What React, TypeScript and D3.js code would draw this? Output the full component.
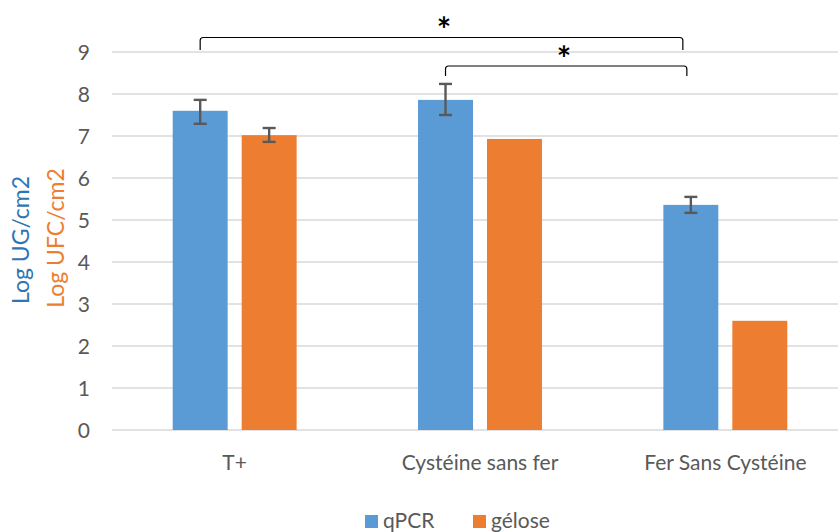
import React from "react";
import * as d3 from "d3";

const categories = ["T+", "Cystéine sans fer", "Fer Sans Cystéine"];
const seriesNames = ["qPCR", "gélose"];
const qpcrValues = [7.6, 7.86, 5.36];
const qpcrErrLow = [7.29, 7.5, 5.17];
const qpcrErrHigh = [7.86, 8.24, 5.55];
const geloseValues = [7.02, 6.93, 2.6];
const geloseErrLow = [6.86, null, null];
const geloseErrHigh = [7.19, null, null];
const yTicks = [0, 1, 2, 3, 4, 5, 6, 7, 8, 9];
const colors = ["#5B9BD5", "#ED7D31"];

const W = 838;
const H = 532;
const FONT = "Lato, 'Open Sans', sans-serif";

export default function App() {
  const y = d3.scaleLinear().domain([0, 9]).range([430, 52]);
  const x0 = d3.scaleBand().domain(categories).range([112, 848]).paddingInner(0).paddingOuter(0);
  const x1 = d3.scaleBand().domain(seriesNames).range([0, x0.bandwidth()]).paddingInner(0.203).paddingOuter(0.88);

  const series = [
    { name: seriesNames[0], values: qpcrValues, lo: qpcrErrLow, hi: qpcrErrHigh, color: colors[0] },
    { name: seriesNames[1], values: geloseValues, lo: geloseErrLow, hi: geloseErrHigh, color: colors[1] },
  ];

  const barCenter = (ci: number, si: number) =>
    (x0(categories[ci]) as number) + (x1(seriesNames[si]) as number) + x1.bandwidth() / 2;

  const brackets = [
    { from: barCenter(0, 0), to: barCenter(2, 0) - 8, yTop: 37.5, yLeft: 50, yRight: 50, starX: 444, starY: 42 },
    { from: barCenter(1, 0), to: barCenter(2, 0) - 4, yTop: 66, yLeft: 76, yRight: 76, starX: 564, starY: 71 },
  ];

  return (
    <svg width={W} height={H} style={{ position: "absolute", left: 0, top: 0, background: "#fff" }}>
      <rect width={W} height={H} fill="#fff" />
      {yTicks.map((t) => (
        <g key={t}>
          <line x1={112} x2={838} y1={y(t)} y2={y(t)} stroke="#D9D9D9" strokeWidth={1.5} />
          <text x={90} y={y(t)} dy="0.36em" textAnchor="end" fontFamily={FONT} fontSize={21} fill="#595959">
            {t}
          </text>
        </g>
      ))}
      {series.map((s) =>
        categories.map((c, ci) => {
          const bx = (x0(c) as number) + (x1(s.name) as number);
          return (
            <rect key={s.name + c} x={bx} y={y(s.values[ci])} width={x1.bandwidth()} height={y(0) - y(s.values[ci])} fill={s.color} />
          );
        })
      )}
      {series.map((s, si) =>
        categories.map((c, ci) => {
          if (s.lo[ci] == null || s.hi[ci] == null) return null;
          const cx = barCenter(ci, si);
          const y1 = y(s.hi[ci] as number);
          const y2 = y(s.lo[ci] as number);
          return (
            <g key={"e" + s.name + c} stroke="#595959" strokeWidth={2.4}>
              <line x1={cx} x2={cx} y1={y1} y2={y2} />
              <line x1={cx - 6.5} x2={cx + 6.5} y1={y1} y2={y1} />
              <line x1={cx - 6.5} x2={cx + 6.5} y1={y2} y2={y2} />
            </g>
          );
        })
      )}
      {categories.map((c) => (
        <text key={c} x={(x0(c) as number) + x0.bandwidth() / 2} y={463} dy="0.35em" textAnchor="middle" fontFamily={FONT} fontSize={21} fill="#595959">
          {c}
        </text>
      ))}
      {brackets.map((b, i) => (
        <g key={"b" + i}>
          <path
            d={`M${b.from},${b.yLeft} L${b.from},${b.yTop + 3} Q${b.from},${b.yTop} ${b.from + 3},${b.yTop} L${b.to - 3},${b.yTop} Q${b.to},${b.yTop} ${b.to},${b.yTop + 3} L${b.to},${b.yRight}`}
            fill="none"
            stroke="#000"
            strokeWidth={1.2}
          />
          <text x={b.starX} y={b.starY} textAnchor="middle" fontFamily={FONT} fontSize={34} fontWeight="bold" fill="#000">
            *
          </text>
        </g>
      ))}
      <text transform="translate(29,240) rotate(-90)" textAnchor="middle" fontFamily={FONT} fontSize={23} fill="#2E75B6">
        Log UG/cm2
      </text>
      <text transform="translate(64,238) rotate(-90)" textAnchor="middle" fontFamily={FONT} fontSize={23} fill="#ED7D31">
        Log UFC/cm2
      </text>
      {seriesNames.map((n, i) => {
        const lx = [365, 473][i];
        return (
          <g key={n}>
            <rect x={lx} y={515} width={13} height={13} fill={colors[i]} />
            <text x={lx + 18} y={521} dy="0.35em" fontFamily={FONT} fontSize={21} fill="#595959">
              {n}
            </text>
          </g>
        );
      })}
    </svg>
  );
}
